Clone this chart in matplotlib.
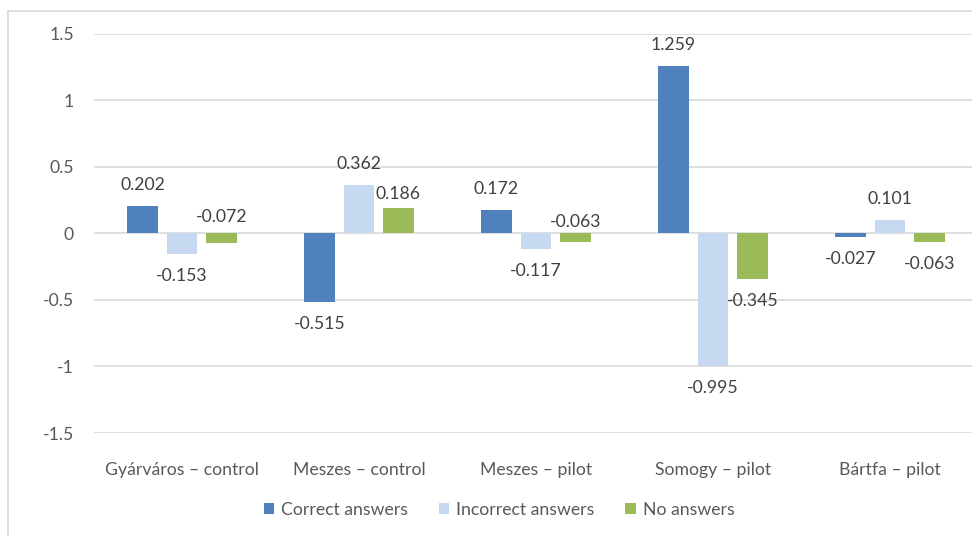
import matplotlib
matplotlib.use("Agg")
import matplotlib.pyplot as plt
import numpy as np
from matplotlib.patches import Rectangle, Patch

# Data
categories = ["Gyárváros – control", "Meszes – control", "Meszes – pilot",
              "Somogy – pilot", "Bártfa – pilot"]
series_names = ["Correct answers", "Incorrect answers", "No answers"]
correct = [0.202, -0.515, 0.172, 1.259, -0.027]
incorrect = [-0.153, 0.362, -0.117, -0.995, 0.101]
no_answer = [-0.072, 0.186, -0.063, -0.345, -0.063]
y_ticks = [-1.5, -1, -0.5, 0, 0.5, 1, 1.5]
y_tick_labels = ["-1.5", "-1", "-0.5", "0", "0.5", "1", "1.5"]

colors = ["#4F81BD", "#C6D9F1", "#9BBB59"]
series = [correct, incorrect, no_answer]

plt.rcParams["font.family"] = ["Lato", "DejaVu Sans"]
FS = 12.7

W, H = 972, 536
fig = plt.figure(figsize=(W / 100, H / 100), dpi=100)
fig.patch.set_facecolor("white")

# Outer chart frame
fig.patches.append(Rectangle((8 / W, -0.05), 1.2, 1 - 11 / H + 0.05,
                             transform=fig.transFigure, fill=False,
                             edgecolor="#D9D9D9", linewidth=1.2, zorder=0))

left, right = 93.5, 978.5
top, bottom = 33.5, 433
ax = fig.add_axes([left / W, 1 - bottom / H, (right - left) / W, (bottom - top) / H])
ax.set_facecolor("none")

x = np.arange(len(categories))
bar_w = 0.175
offsets = [-0.223, 0.0, 0.223]

for vals, off, col, name in zip(series, offsets, colors, series_names):
    ax.bar(x + off, vals, width=bar_w, color=col, label=name, zorder=3)

# Value labels: outside the bar end, with a few placed above the axis line
label_shift = {(0, 2): ("zero", 16), (2, 2): ("zero", 11), (1, 2): ("end", 14)}
for si, (vals, off) in enumerate(zip(series, offsets)):
    for ci, v in enumerate(vals):
        mode, px = label_shift.get((ci, si), ("end", 21 if v >= 0 else -22))
        y_anchor = 0 if mode == "zero" else v
        ax.annotate(f"{v:.3f}", (x[ci] + off, y_anchor), xytext=(0, px),
                    textcoords="offset pixels", ha="center", va="center",
                    fontsize=FS, color="#404040", zorder=5)

ax.set_xlim(-0.5, len(categories) - 0.5)
ax.set_ylim(-1.5, 1.5)
ax.set_yticks(y_ticks)
ax.set_yticklabels(y_tick_labels)
ax.set_xticks(x)
ax.set_xticklabels(categories)
ax.tick_params(axis="both", length=0, labelsize=FS, labelcolor="#595959")
ax.tick_params(axis="y", pad=14)
ax.tick_params(axis="x", pad=21)
for s in ax.spines.values():
    s.set_visible(False)
ax.yaxis.grid(True, color="#D9D9D9", linewidth=1.2, zorder=0)
ax.set_axisbelow(True)

handles = [Patch(facecolor=c, edgecolor="none") for c in colors]
fig.legend(handles, series_names, loc="center", bbox_to_anchor=(499 / W, 1 - 510 / H),
           ncol=3, frameon=False, fontsize=FS, handlelength=0.58, handleheight=0.58,
           handletextpad=0.4, columnspacing=1.75, labelcolor="#595959")

fig.savefig("out.png", dpi=100, facecolor="white")
